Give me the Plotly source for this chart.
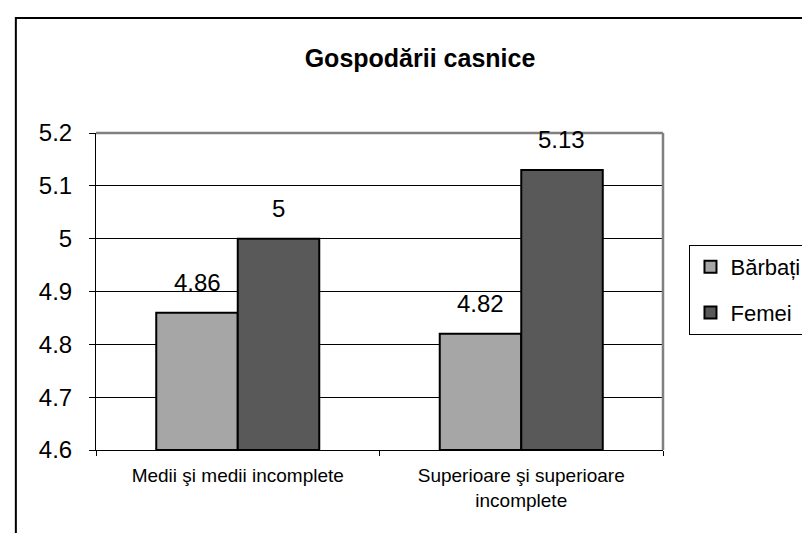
import plotly.graph_objects as go

categories = ["Medii şi medii incomplete", "Superioare şi superioare<br>incomplete"]
series_names = ["Bărbați", "Femei"]
barbati = [4.86, 4.82]
femei = [5.00, 5.13]
colors = ["#A6A6A6", "#595959"]
y_ticks = [4.6, 4.7, 4.8, 4.9, 5.0, 5.1, 5.2]
y_tick_text = ["4.6", "4.7", "4.8", "4.9", "5", "5.1", "5.2"]

W, H = 810, 533
L, R, T, B = 88, 661, 125, 442

def px(xp):
    return (xp - L) / (R - L)

def py(yp):
    return (B - yp) / (B - T)

FONT = "Liberation Sans, Arial, sans-serif"

fig = go.Figure()
for name, vals, col in zip(series_names, [barbati, femei], colors):
    fig.add_trace(go.Bar(
        x=categories, y=[v - 4.6 for v in vals], base=4.6, name=name,
        marker=dict(color=col, line=dict(color="black", width=2)),
        legendgroup=name,
    ))

# data labels
offsets = [-0.1435, 0.1435]
for off, vals in zip(offsets, [barbati, femei]):
    for i, v in enumerate(vals):
        fig.add_annotation(x=i + off, y=v, xref="x", yref="y",
                           text=f"{v:g}", showarrow=False, yshift=30,
                           font=dict(family=FONT, size=24, color="black"))

fig.update_layout(
    width=W, height=H,
    margin=dict(l=L, r=W - R, t=T, b=H - B),
    paper_bgcolor="white", plot_bgcolor="white",
    barmode="group", bargap=0.425, bargroupgap=0,
    title=dict(text="<b>Gospodării casnice</b>", x=412 / W, xref="container",
               y=1 - 50 / H, yref="container", xanchor="center", yanchor="middle",
               font=dict(family=FONT, size=25, color="black")),
    legend=dict(x=px(806), y=py(237), xanchor="right", yanchor="top",
                bordercolor="black", borderwidth=1, bgcolor="white",
                font=dict(family=FONT, size=22, color="black"),
                itemwidth=30,
                tracegroupgap=14, traceorder="grouped"),
    font=dict(family=FONT, color="black"),
)
fig.update_yaxes(range=[4.6, 5.2], tickvals=y_ticks, ticktext=y_tick_text,
                 showgrid=True, gridcolor="black", gridwidth=1,
                 showline=True, linecolor="black", linewidth=1,
                 ticks="outside", ticklen=6, tickcolor="black",
                 ticklabelstandoff=12,
                 tickfont=dict(family=FONT, size=24, color="black"),
                 zeroline=False)
fig.update_xaxes(showline=True, linecolor="black", linewidth=1,
                 ticks="outside", tickson="boundaries", ticklen=5, tickcolor="black",
                 ticklabelstandoff=8,
                 tickfont=dict(family=FONT, size=19, color="black"))

# plot area border (top/right gray) and outer chart border (left/top)
fig.add_shape(type="line", xref="paper", yref="paper", x0=0, y0=1, x1=1, y1=1,
              line=dict(color="#808080", width=2.5))
fig.add_shape(type="line", xref="paper", yref="paper", x0=1, y0=0, x1=1, y1=1,
              line=dict(color="#808080", width=2.5))
fig.add_shape(type="path", xref="paper", yref="paper",
              path=f"M {px(7)} {py(540)} L {px(7)} {py(10)} L {px(820)} {py(10)}",
              line=dict(color="black", width=2))

fig.write_html("out.html")
